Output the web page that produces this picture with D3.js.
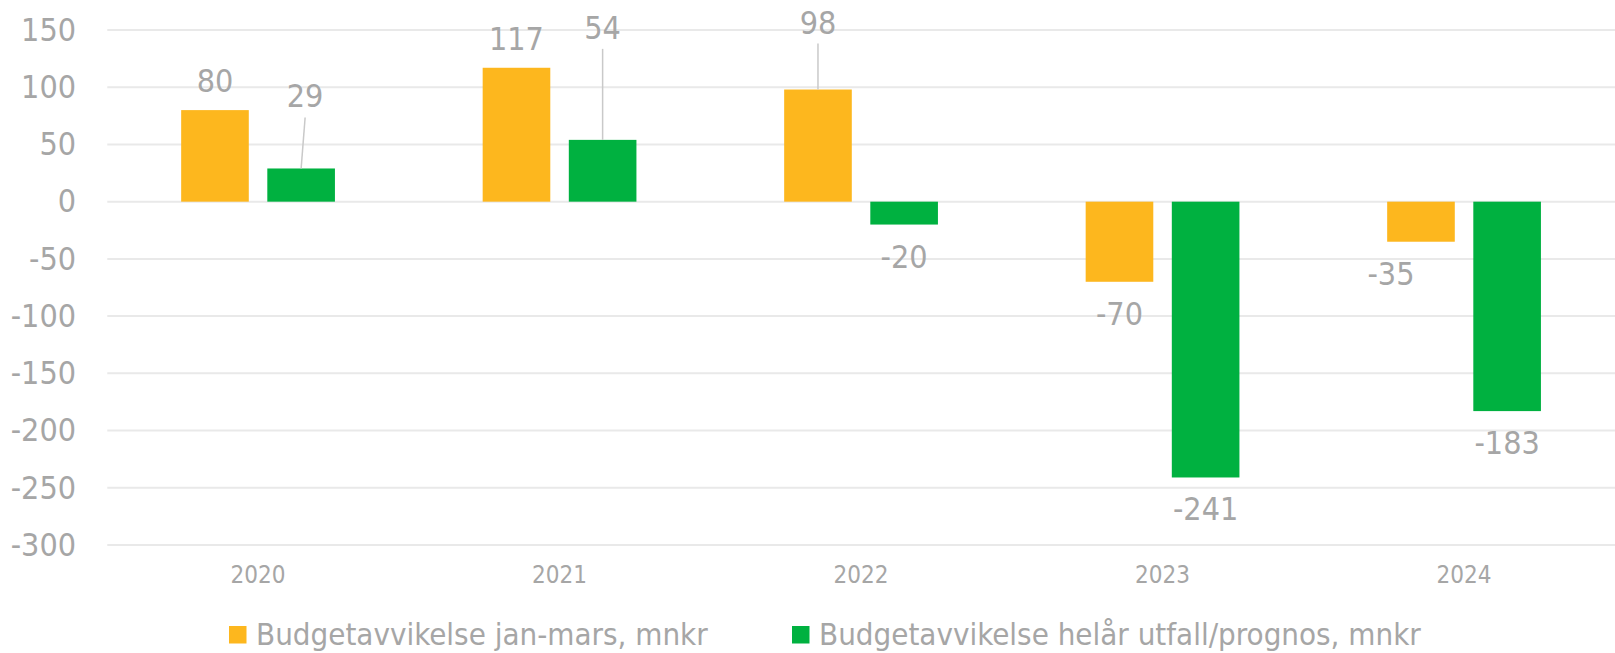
<!DOCTYPE html>
<html>
<head>
<meta charset="utf-8">
<script src="https://cdn.jsdelivr.net/npm/d3@7"></script>
<style>
  html, body { margin: 0; padding: 0; background: #fff; }
  svg { display: block; }
  text { font-family: "DejaVu Sans Condensed", "DejaVu Sans", sans-serif; font-stretch: condensed; fill: #a6a6a6; }
</style>
</head>
<body>
<svg id="chart"></svg>
<script>
// data
var years = ["2020", "2021", "2022", "2023", "2024"];
var seriesNames = ["Budgetavvikelse jan-mars, mnkr", "Budgetavvikelse helår utfall/prognos, mnkr"];
var janMars = [80, 117, 98, -70, -35];
var helar = [29, 54, -20, -241, -183];
var yTicks = [150, 100, 50, 0, -50, -100, -150, -200, -250, -300];

// labels that were dragged in Excel (px): [dx, lift] per year and series
var moved = [
    [[0, 0], [4, 43]],
    [[0, 0], [0, 83]],
    [[0, 38], [0, 0]],
    [[0, 0], [0, 0]],
    [[-30, 0], [0, 0]]
];

var colors = ["#fdb71e", "#00b140"];

var W = 1615, H = 653;
var svg = d3.select("#chart").attr("width", W).attr("height", H);

var x0 = d3.scaleBand().domain(years).range([107.3, 1614.8]).paddingInner(0.49).paddingOuter(0.245);
var x1 = d3.scaleBand().domain([0, 1]).range([0, x0.bandwidth()]).paddingInner(0.215);
var y = d3.scaleLinear().domain([-300, 150]).range([545, 30]);

// gridlines
svg.append("g")
    .selectAll("line")
    .data(yTicks)
    .enter().append("line")
    .attr("x1", 107.3).attr("x2", W)
    .attr("y1", function (d) { return y(d); })
    .attr("y2", function (d) { return y(d); })
    .attr("stroke", "#e9e9e9")
    .attr("stroke-width", 2);

// y axis labels
var yAxis = d3.axisLeft(y).tickValues(yTicks).tickSize(0).tickPadding(0)
    .tickFormat(function (d) { return String(d); });
var yg = svg.append("g").attr("transform", "translate(76,0)").call(yAxis);
yg.select(".domain").remove();
yg.selectAll("text").attr("font-size", 32).attr("fill", "#a6a6a6").attr("font-family", null);

// x axis labels
var xAxis = d3.axisBottom(x0).tickSize(0).tickPadding(0);
var xg = svg.append("g").attr("transform", "translate(0,566)").call(xAxis);
xg.select(".domain").remove();
xg.selectAll("text").attr("font-size", 24).attr("fill", "#a6a6a6").attr("font-family", null).attr("dy", "0.71em");

// bars
var rows = years.map(function (yr, i) {
    return {year: yr, i: i, vals: [janMars[i], helar[i]]};
});

var group = svg.selectAll(".grp")
    .data(rows)
    .enter().append("g")
    .attr("class", "grp")
    .attr("transform", function (d) { return "translate(" + x0(d.year) + ",0)"; });

function cells(d) {
    return d.vals.map(function (v, s) { return {v: v, s: s, i: d.i}; });
}

group.selectAll("rect")
    .data(cells)
    .enter().append("rect")
    .attr("x", function (d) { return x1(d.s); })
    .attr("width", x1.bandwidth())
    .attr("y", function (d) { return y(Math.max(0, d.v)); })
    .attr("height", function (d) { return Math.abs(y(d.v) - y(0)); })
    .attr("fill", function (d) { return colors[d.s]; });

// value labels
group.selectAll(".lbl")
    .data(cells)
    .enter().append("g")
    .attr("class", "lbl")
    .each(function (d) {
        var g = d3.select(this);
        var cx = x1(d.s) + x1.bandwidth() / 2;
        var dx = moved[d.i][d.s][0], up = moved[d.i][d.s][1];
        var base = d.v >= 0 ? y(d.v) - 18 - up : y(d.v) + 43;
        if (up > 0) {
            g.append("line")
                .attr("x1", cx + dx).attr("y1", base + 10)
                .attr("x2", cx).attr("y2", y(d.v))
                .attr("stroke", "#c9c9c9")
                .attr("stroke-width", 1.5);
        }
        g.append("text")
            .attr("x", cx + dx)
            .attr("y", base)
            .attr("text-anchor", "middle")
            .attr("font-size", 32)
            .text(d.v);
    });

// legend
var legend = svg.append("g").attr("transform", "translate(0,635)");
var lx = [229, 792];
seriesNames.forEach(function (name, s) {
    legend.append("rect")
        .attr("x", lx[s]).attr("y", -9)
        .attr("width", 17.5).attr("height", 17.5)
        .attr("fill", colors[s]);
    legend.append("text")
        .attr("x", lx[s] + 27)
        .attr("y", 10)
        .attr("font-size", 31)
        .text(name);
});
</script>
</body>
</html>
